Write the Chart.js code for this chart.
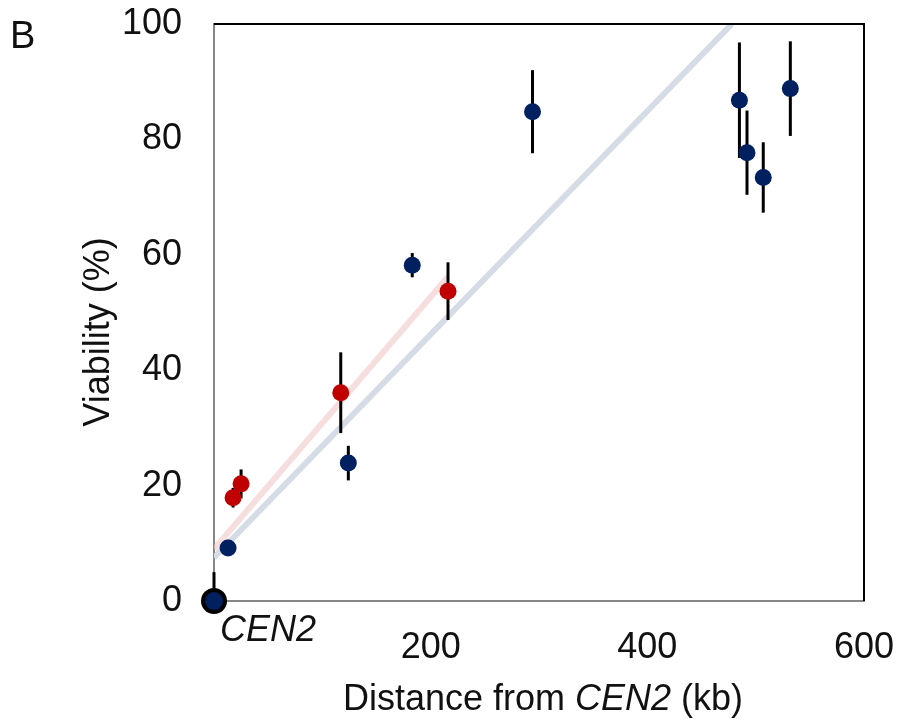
<!DOCTYPE html>
<html>
<head>
<meta charset="utf-8">
<script src="https://cdn.jsdelivr.net/npm/chart.js@4.4.1/dist/chart.umd.min.js"></script>
<style>
  html, body { margin: 0; padding: 0; background: #fff; }
  #wrap { width: 901px; height: 726px; }
</style>
</head>
<body>
<div id="wrap"><canvas id="myChart" width="901" height="726"></canvas></div>
<script>
// centromere point
const cenX = [0];
const cenY = [0];
const cenErr = [5];

// blue (navy) points
const blueX = [13, 124, 183, 294, 485, 492, 507, 532];
const blueY = [9.2, 23.9, 58.2, 84.8, 86.8, 77.7, 73.4, 88.8];
const blueErr = [1.4, 3, 2.1, 7.2, 10, 7.3, 6.1, 8.2];

// red points
const redX = [17.6, 25, 117, 216];
const redY = [17.9, 20.3, 36.1, 53.7];
const redErr = [1.7, 2.5, 7, 5];

// trend line ends
const blueTrendX = [0, 478];
const blueTrendY = [7.5, 100];
const redTrendX = [0, 216];
const redTrendY = [9, 56.2];

const xTicks = [200, 400, 600];
const yTicks = [0, 20, 40, 60, 80, 100];

const FONT = '"Liberation Sans", Arial, sans-serif';
const TXT = '#111';

function pts(xs, ys) {
    return xs.map((x, i) => ({ x: x, y: ys[i] }));
}

const errorBars = {
    id: 'errorBars',
    beforeDatasetDraw(chart, args) {
        const ds = chart.data.datasets[args.index];
        if (!ds.err) return;
        const xs = chart.scales.x, ys = chart.scales.y;
        const ctx = chart.ctx;
        const a = chart.chartArea;
        ctx.save();
        ctx.beginPath();
        ctx.rect(a.left - 2, a.top, a.right - a.left + 4, a.bottom - a.top);
        ctx.clip();
        ctx.strokeStyle = '#000';
        ctx.lineWidth = 3;
        ds.data.forEach((p, i) => {
            const px = xs.getPixelForValue(p.x);
            ctx.beginPath();
            ctx.moveTo(px, ys.getPixelForValue(p.y + ds.err[i]));
            ctx.lineTo(px, ys.getPixelForValue(p.y - ds.err[i]));
            ctx.stroke();
        });
        ctx.restore();
    }
};

const extras = {
    id: 'extras',
    afterDraw(chart) {
        const ctx = chart.ctx;
        const a = chart.chartArea;
        ctx.save();
        // top and right frame
        ctx.strokeStyle = '#000';
        ctx.lineWidth = 2;
        ctx.beginPath();
        ctx.moveTo(a.left, a.top);
        ctx.lineTo(a.right, a.top);
        ctx.lineTo(a.right, a.bottom);
        ctx.stroke();

        ctx.fillStyle = TXT;
        ctx.textBaseline = 'alphabetic';

        // panel letter
        ctx.font = '38px ' + FONT;
        ctx.textAlign = 'left';
        ctx.fillText('B', 10, 48);

        // CEN2 label at origin
        ctx.font = 'italic 36px ' + FONT;
        ctx.fillText('CEN2', 220, 641);

        // x title with italic part
        const parts = [['Distance from ', ''], ['CEN2', 'italic '], [' (kb)', '']];
        let total = 0;
        parts.forEach(p => { ctx.font = p[1] + '36px ' + FONT; total += ctx.measureText(p[0]).width; });
        let x = 543 - total / 2;
        parts.forEach(p => {
            ctx.font = p[1] + '36px ' + FONT;
            ctx.fillText(p[0], x, 710);
            x += ctx.measureText(p[0]).width;
        });

        // y title
        ctx.translate(109, 332);
        ctx.rotate(-Math.PI / 2);
        ctx.textAlign = 'center';
        ctx.font = '36px ' + FONT;
        ctx.fillText('Viability (%)', 0, 0);
        ctx.restore();
    }
};

const ctx = document.getElementById('myChart').getContext('2d');
const myChart = new Chart(ctx, {
    type: 'scatter',
    data: {
        datasets: [
            {
                data: pts(cenX, cenY), err: cenErr,
                backgroundColor: '#002060', borderColor: '#000', borderWidth: 4,
                pointRadius: 11, clip: false, order: 0
            },
            {
                data: pts(blueX, blueY), err: blueErr,
                backgroundColor: '#002060', borderWidth: 0,
                pointRadius: 8.5, clip: false, order: 1
            },
            {
                data: pts(redX, redY), err: redErr,
                backgroundColor: '#c00000', borderWidth: 0,
                pointRadius: 8.5, clip: false, order: 2
            },
            {
                data: pts(redTrendX, redTrendY), showLine: true,
                borderColor: 'rgba(240,200,200,0.6)', borderWidth: 6,
                pointRadius: 0, order: 3
            },
            {
                data: pts(blueTrendX, blueTrendY), showLine: true,
                borderColor: '#d6dce6', borderWidth: 6,
                pointRadius: 0, order: 4
            }
        ]
    },
    options: {
        responsive: false,
        animation: false,
        layout: { padding: { left: 0, top: 24, right: 37, bottom: 0 } },
        plugins: {
            legend: { display: false },
            tooltip: { enabled: false }
        },
        scales: {
            x: {
                type: 'linear', min: 0, max: 600,
                afterBuildTicks: s => { s.ticks = xTicks.map(v => ({ value: v })); },
                afterFit: s => { s.height = 125; s.paddingLeft = 0; s.paddingRight = 0; },
                grid: { display: false, drawTicks: false },
                border: { display: true, color: '#868686', width: 2 },
                ticks: { color: TXT, font: { family: FONT, size: 36 }, padding: 25, maxRotation: 0 }
            },
            y: {
                type: 'linear', min: 0, max: 100,
                afterBuildTicks: s => { s.ticks = yTicks.map(v => ({ value: v })); },
                afterFit: s => { s.width = 214; s.paddingTop = 0; s.paddingBottom = 0; },
                grid: { display: false, drawTicks: false },
                border: { display: true, color: '#868686', width: 2 },
                ticks: { color: TXT, font: { family: FONT, size: 36 }, padding: 32 }
            }
        }
    },
    plugins: [errorBars, extras]
});
</script>
</body>
</html>
